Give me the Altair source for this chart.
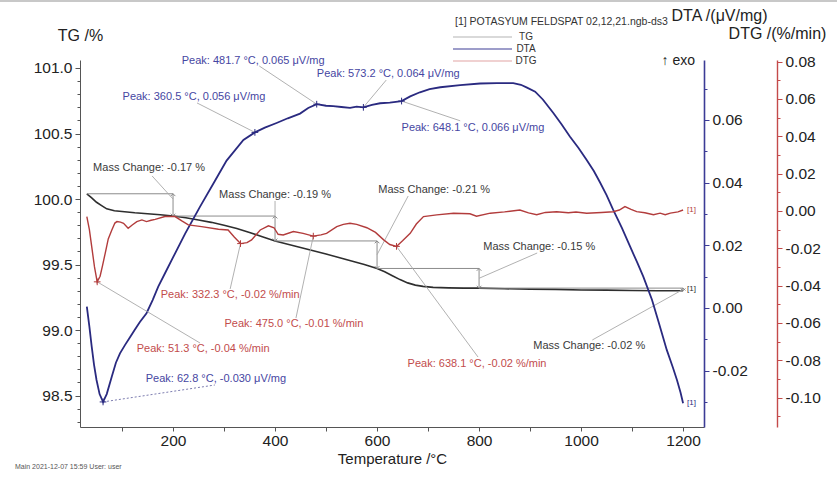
import altair as alt
import pandas as pd

FONT = "Liberation Sans"
C_TG = "#2e2e2e"
C_DTA = "#2a2a80"
C_DTG = "#b23c3c"
C_DTA_TXT = "#4646a2"
C_DTG_TXT = "#c24c4c"
C_NOTE = "#3a3a3a"
C_LEADER = "#a8a8a8"
C_STEP = "#8c8c8c"

# ---------------- measured curves ----------------
# TG: mass in %
tg_temp = [31, 40, 50, 60, 70, 85, 100, 125, 150, 175, 200, 225, 250, 275, 300,
           325, 350, 375, 400, 425, 450, 475, 500, 525, 550, 575, 600, 615, 630, 645,
           660, 675, 690, 710, 740, 770, 800, 850, 900, 950, 1000, 1050, 1100, 1150, 1200]
tg_mass = [100.04, 100.01, 99.975, 99.95, 99.925, 99.91, 99.905, 99.895, 99.888, 99.88,
           99.87, 99.857, 99.84, 99.822, 99.80, 99.775, 99.745, 99.712, 99.68, 99.655,
           99.63, 99.605, 99.58, 99.553, 99.527, 99.50, 99.47, 99.445, 99.415, 99.385,
           99.36, 99.343, 99.333, 99.326, 99.322, 99.32, 99.32, 99.315, 99.312, 99.31,
           99.306, 99.305, 99.302, 99.30, 99.30]

# DTA: uV/mg
dta_temp = [31, 36, 40.5, 45, 50, 56, 62.8, 70, 80, 88, 96, 106, 115, 125, 135,
            148, 160, 171, 185, 200, 224, 253, 282, 305, 338, 360.5, 380, 403, 425, 449,
            465, 481.7, 500, 514, 530, 547, 560, 573.2, 590, 606, 625, 648.1, 665, 684, 703,
            724, 763, 802, 835, 867, 882, 894, 910, 925, 946, 962, 978, 995, 1011, 1025,
            1037, 1050, 1063, 1080, 1096, 1110, 1122, 1139, 1152, 1168, 1180, 1188, 1195, 1200]
dta_val = [0.0004, -0.006, -0.0123, -0.018, -0.023, -0.0275, -0.030, -0.0275, -0.0219, -0.0175,
           -0.0145, -0.0118, -0.0095, -0.0070, -0.0045, -0.0017, 0.0025, 0.0068, 0.0113, 0.0161,
           0.0238, 0.0323, 0.0405, 0.047, 0.0536, 0.056, 0.0575, 0.059, 0.0605, 0.062,
           0.0638, 0.065, 0.0645, 0.0644, 0.0641, 0.0638, 0.0642, 0.064, 0.0648, 0.0653,
           0.0655, 0.066, 0.0675, 0.0688, 0.0698, 0.0704, 0.0711, 0.0716, 0.0717, 0.0717,
           0.0712, 0.0703, 0.069, 0.0665, 0.0621, 0.0585, 0.0547, 0.051, 0.0472, 0.0437,
           0.0401, 0.036, 0.0313, 0.0255, 0.0196, 0.0145, 0.0100, 0.0026, -0.0045, -0.0134,
           -0.0190, -0.0230, -0.027, -0.0304]

# DTG: %/min
dtg_temp = [31, 36, 40.5, 46, 51.3, 57, 62, 67, 73, 80, 86, 90, 97, 103, 112,
            120, 129, 139, 148, 157, 165, 184, 204, 218, 230, 256, 289, 308, 320, 332.3,
            345, 354, 371, 387, 398, 406, 416, 436, 455, 475, 490, 501, 521, 534, 547,
            560, 580, 597, 613, 625, 638.1, 650, 665, 677, 691, 717, 750, 782, 795, 822,
            850, 880, 897, 913, 930, 952, 975, 990, 1011, 1040, 1063, 1075, 1086, 1098, 1109,
            1125, 1142, 1155, 1165, 1175, 1190, 1200]
dtg_val = [-0.0030, -0.010, -0.019, -0.030, -0.038, -0.035, -0.029, -0.0227, -0.015, -0.0102,
           -0.0065, -0.0057, -0.0060, -0.0066, -0.0093, -0.0075, -0.0057, -0.0048, -0.0057, -0.0050,
           -0.0045, -0.0030, -0.0030, -0.0055, -0.0075, -0.0084, -0.0098, -0.0102, -0.0140, -0.0175,
           -0.0170, -0.0155, -0.0102, -0.0080, -0.0090, -0.0125, -0.0129, -0.0110, -0.0120, -0.0135,
           -0.0128, -0.0120, -0.0084, -0.0072, -0.0066, -0.0072, -0.0090, -0.0115, -0.0155, -0.0180,
           -0.0190, -0.0160, -0.0120, -0.0070, -0.0030, -0.0021, -0.0012, -0.0015, -0.0028, -0.0012,
           -0.0005, 0.0005, -0.0010, -0.0020, -0.0008, -0.0004, -0.0010, -0.0006, -0.0012, -0.0008,
           -0.0004, 0.0005, 0.0023, 0.0008, -0.0004, -0.0010, -0.0020, -0.0012, -0.0020, -0.0012,
           -0.0005, 0.0005]

# evaluated peaks and mass-change steps
dta_peak_temp = [62.8, 360.5, 481.7, 573.2, 648.1]
dtg_peak_temp = [51.3, 332.3, 475.0, 638.1]
step_temp = [31, 200, 400, 600, 800, 1200]

x_ticks = list(range(100, 1201, 100))
tg_ticks = [98.5, 99.0, 99.5, 100.0, 100.5, 101.0]
dta_ticks = [-0.02, 0.0, 0.02, 0.04, 0.06]
dtg_ticks = [-0.10, -0.08, -0.06, -0.04, -0.02, 0.0, 0.02, 0.04, 0.06, 0.08]

# label placement (label centre / leader end), in the units of each axis
dta_label_T = [284, 241, 357, 622, 788]
dta_label_v = [-0.0226, 0.0673, 0.0788, 0.0746, 0.0574]
dta_lead_T = [282, 247, 369, 618, 763]
dta_lead_v = [-0.0246, 0.0654, 0.0772, 0.0727, 0.0597]

dtg_label_T = [259, 312, 437, 796]
dtg_label_v = [-0.074, -0.045, -0.0606, -0.082]
dtg_lead_T = [253, 312, 441, 798]
dtg_lead_v = [-0.0708, -0.0418, -0.0574, -0.0783]

mc_label_T = [153, 400, 712, 918, 1016]
mc_label_v = [100.237, 100.03, 100.07, 99.634, 98.878]
mc_lead_T = [159, 400, 661, 914, 1022]
mc_lead_v = [100.176, 99.985, 100.023, 99.588, 98.924]
mc_tip_v = [100.0, 99.86, 99.575, 99.395, 99.31]

# ---------------- derived tables ----------------
dta_peak_val = [dta_val[dta_temp.index(t)] for t in dta_peak_temp]
dtg_peak_val = [dtg_val[dtg_temp.index(t)] for t in dtg_peak_temp]
levels = [tg_mass[tg_temp.index(t)] for t in step_temp]
changes = [b - a for a, b in zip(levels[:-1], levels[1:])]

tg_df = pd.DataFrame({"T": tg_temp, "v": tg_mass})
dta_df = pd.DataFrame({"T": dta_temp, "v": dta_val})
dtg_df = pd.DataFrame({"T": dtg_temp, "v": dtg_val})

dta_peaks = pd.DataFrame({
    "T": dta_peak_temp, "v": dta_peak_val,
    "T2": dta_lead_T, "v2": dta_lead_v,
    "lT": dta_label_T, "lv": dta_label_v,
    "label": [f"Peak: {t:.1f} °C, {v:.3f} μV/mg" for t, v in zip(dta_peak_temp, dta_peak_val)],
})
dtg_peaks = pd.DataFrame({
    "T": dtg_peak_temp, "v": dtg_peak_val,
    "T2": dtg_lead_T, "v2": dtg_lead_v,
    "lT": dtg_label_T, "lv": dtg_label_v,
    "label": [f"Peak: {t:.1f} °C, {v:.2f} %/min" for t, v in zip(dtg_peak_temp, dtg_peak_val)],
})
step_h = pd.DataFrame({"T": step_temp[:-1], "T2": step_temp[1:], "v": levels[:-1]})
step_v = pd.DataFrame({"T": step_temp[1:], "v": levels[:-1], "v2": levels[1:],
                       "lT": mc_label_T, "lv": mc_label_v,
                       "aT": mc_lead_T, "av": mc_lead_v, "tv": mc_tip_v,
                       "label": [f"Mass Change: {c:.2f} %" for c in changes]})

# ---------------- scales and axes ----------------
x_scale = alt.Scale(domain=[17.6, 1241.0], nice=False, zero=False)
tg_scale = alt.Scale(domain=[98.26, 101.061], nice=False, zero=False)
dta_scale = alt.Scale(domain=[-0.038, 0.0791], nice=False, zero=False)
dtg_scale = alt.Scale(domain=[-0.1158, 0.0809], nice=False, zero=False)

MINUS = "replace(format(datum.value, '.2f'), '\u2212', '-')"

x_axis = alt.Axis(orient="bottom", values=x_ticks, format="d",
                  labelExpr="datum.value % 200 == 0 ? datum.label : ''",
                  title="Temperature /°C", grid=False, tickSize=4,
                  labelFontSize=15.5, titleFontSize=15, titleFontWeight="normal",
                  labelColor="#222", titleColor="#222", domainColor="#555",
                  tickColor="#555", labelPadding=2, titlePadding=3,
                  labelFont=FONT, titleFont=FONT)

tg_axis = alt.Axis(orient="left", values=tg_ticks, format=".1f", grid=False,
                   tickSize=5, labelFontSize=15.5, labelColor="#222",
                   domainColor="#555", tickColor="#555", labelPadding=3,
                   title="TG /%", titleAngle=0, titleX=0, titleY=-25,
                   titleAlign="center", titleBaseline="middle", titleFontSize=16,
                   titleFontWeight="normal", titleColor="#222",
                   labelFont=FONT, titleFont=FONT)
tg_minor_axis = alt.Axis(orient="left", values=[round(98.3 + 0.1 * i, 1) for i in range(28)],
                         labels=False, domain=False, grid=False, tickSize=3,
                         tickColor="#555", title=None)

dta_axis = alt.Axis(orient="right", values=dta_ticks, labelExpr=MINUS, grid=False,
                    tickSize=5, labelFontSize=15.5, labelColor="#222",
                    domainColor="#3c3c96", domainWidth=1.6, tickColor="#3c3c96",
                    labelPadding=3, title="DTA /(μV/mg)", titleAngle=0,
                    titleX=15, titleY=-45, titleAlign="center", titleBaseline="middle",
                    titleFontSize=16, titleFontWeight="normal", titleColor="#222",
                    labelFont=FONT, titleFont=FONT)
dta_minor_axis = alt.Axis(orient="right", values=[round(-0.03 + 0.01 * i, 2) for i in range(11)],
                          labels=False, domain=False, grid=False, tickSize=3,
                          tickColor="#3c3c96", title=None)

dtg_axis = alt.Axis(orient="right", offset=73, values=dtg_ticks, labelExpr=MINUS,
                    grid=False, tickSize=5, labelFontSize=15.5, labelColor="#222",
                    domainColor="#c44a4a", domainWidth=1.4, tickColor="#c44a4a",
                    labelPadding=3, title="DTG /(%/min)", titleAngle=0,
                    titleX=0, titleY=-27, titleAlign="center", titleBaseline="middle",
                    titleFontSize=16, titleFontWeight="normal", titleColor="#222",
                    labelFont=FONT, titleFont=FONT)
dtg_minor_axis = alt.Axis(orient="right", offset=73,
                          values=[round(-0.11 + 0.01 * i, 2) for i in range(20)],
                          labels=False, domain=False, grid=False, tickSize=3,
                          tickColor="#c44a4a", title=None)


def xe(field="T", axis=None):
    return alt.X(f"{field}:Q", scale=x_scale, axis=axis)


def ye(scale, field="v", axis=None):
    return alt.Y(f"{field}:Q", scale=scale, axis=axis)


PLUS = "M-1,0L1,0M0,-1L0,1"
UP = "M-1,1L0,0L1,1"
DOWN = "M-1,-1L0,0L1,-1"

# ---------------- temperature axis (own layer) ----------------
x_axis_layer = alt.Chart(tg_df).mark_line(opacity=0).encode(
    x=xe(axis=x_axis), y=ye(tg_scale))

# ---------------- TG group ----------------
tg_line = alt.Chart(tg_df).mark_line(color=C_TG, strokeWidth=1.6).encode(
    x=xe(), y=ye(tg_scale, axis=tg_axis))
tg_minor = alt.Chart(tg_df).mark_line(opacity=0).encode(
    x=xe(), y=ye(tg_scale, axis=tg_minor_axis))
tg_hrules = alt.Chart(step_h).mark_rule(color=C_STEP, strokeWidth=1).encode(
    x=xe(), x2="T2:Q", y=ye(tg_scale))
tg_vrules = alt.Chart(step_v).mark_rule(color=C_STEP, strokeWidth=1).encode(
    x=xe(), y=ye(tg_scale), y2="v2:Q")
tg_up = alt.Chart(step_v).mark_point(shape=UP, filled=False, size=22, color=C_STEP,
                                     strokeWidth=1, opacity=1).encode(x=xe(), y=ye(tg_scale))
tg_down = alt.Chart(step_v).mark_point(shape=DOWN, filled=False, size=22, color=C_STEP,
                                       strokeWidth=1, opacity=1).encode(x=xe(), y=ye(tg_scale, "v2"))
tg_leaders = alt.Chart(step_v).mark_rule(color=C_LEADER, strokeWidth=0.9).encode(
    x=xe("aT"), y=ye(tg_scale, "av"), x2="T:Q", y2="tv:Q")
tg_text = alt.Chart(step_v).mark_text(font=FONT, fontSize=11, color=C_NOTE,
                                      align="center", baseline="middle").encode(
    x=xe("lT"), y=ye(tg_scale, "lv"), text="label:N")
tg_end = alt.Chart(tg_df.tail(1)).mark_text(text="[1]", font=FONT, fontSize=8, color=C_TG,
                                            align="left", baseline="middle", dx=4, dy=-2).encode(
    x=xe(), y=ye(tg_scale))

tg_group = alt.layer(tg_line, tg_minor, tg_hrules, tg_vrules, tg_up, tg_down,
                     tg_leaders, tg_text, tg_end).resolve_axis(x="independent", y="independent")

# ---------------- DTA group ----------------
dta_line = alt.Chart(dta_df).mark_line(color=C_DTA, strokeWidth=1.8).encode(
    x=xe(), y=ye(dta_scale, axis=dta_axis))
dta_minor = alt.Chart(dta_df).mark_line(opacity=0).encode(
    x=xe(), y=ye(dta_scale, axis=dta_minor_axis))
dta_lead_solid = alt.Chart(dta_peaks.iloc[1:]).mark_rule(color=C_LEADER, strokeWidth=0.9).encode(
    x=xe(), y=ye(dta_scale), x2="T2:Q", y2="v2:Q")
dta_lead_dash = alt.Chart(dta_peaks.iloc[:1]).mark_rule(color="#5a5a9a", strokeWidth=0.8,
                                                        strokeDash=[2, 2]).encode(
    x=xe(), y=ye(dta_scale), x2="T2:Q", y2="v2:Q")
dta_marks = alt.Chart(dta_peaks).mark_point(shape=PLUS, filled=False, size=45, color=C_DTA,
                                            strokeWidth=1, opacity=1).encode(
    x=xe(), y=ye(dta_scale))
dta_text = alt.Chart(dta_peaks).mark_text(font=FONT, fontSize=11, color=C_DTA_TXT,
                                          align="center", baseline="middle").encode(
    x=xe("lT"), y=ye(dta_scale, "lv"), text="label:N")
dta_end = alt.Chart(dta_df.tail(1)).mark_text(text="[1]", font=FONT, fontSize=8, color=C_DTA,
                                              align="left", baseline="middle", dx=4).encode(
    x=xe(), y=ye(dta_scale))

dta_group = alt.layer(dta_lead_solid, dta_lead_dash, dta_line, dta_minor, dta_marks,
                      dta_text, dta_end).resolve_axis(x="independent", y="independent")

# ---------------- DTG group ----------------
dtg_line = alt.Chart(dtg_df).mark_line(color=C_DTG, strokeWidth=1.4).encode(
    x=xe(), y=ye(dtg_scale, axis=dtg_axis))
dtg_minor = alt.Chart(dtg_df).mark_line(opacity=0).encode(
    x=xe(), y=ye(dtg_scale, axis=dtg_minor_axis))
dtg_leads = alt.Chart(dtg_peaks).mark_rule(color=C_LEADER, strokeWidth=0.9).encode(
    x=xe(), y=ye(dtg_scale), x2="T2:Q", y2="v2:Q")
dtg_marks = alt.Chart(dtg_peaks).mark_point(shape=PLUS, filled=False, size=45, color=C_DTG,
                                            strokeWidth=1, opacity=1).encode(
    x=xe(), y=ye(dtg_scale))
dtg_text = alt.Chart(dtg_peaks).mark_text(font=FONT, fontSize=11, color=C_DTG_TXT,
                                          align="center", baseline="middle").encode(
    x=xe("lT"), y=ye(dtg_scale, "lv"), text="label:N")
dtg_end = alt.Chart(dtg_df.tail(1)).mark_text(text="[1]", font=FONT, fontSize=8, color=C_DTG,
                                              align="left", baseline="middle", dx=4).encode(
    x=xe(), y=ye(dtg_scale))

dtg_group = alt.layer(dtg_leads, dtg_line, dtg_minor, dtg_marks, dtg_text,
                      dtg_end).resolve_axis(x="independent", y="independent")

# ---------------- header, legend and footer ----------------
one = pd.DataFrame({"k": [0]})


def px_text(text, x, y, **kw):
    return alt.Chart(one).mark_text(text=text, font=FONT, **kw).encode(
        x=alt.value(x), y=alt.value(y))


def px_rule(x1, x2, y, color, width=1.0):
    return alt.Chart(one).mark_rule(color=color, strokeWidth=width).encode(
        x=alt.value(x1), x2=alt.value(x2), y=alt.value(y))


legend_names = ["TG", "DTA", "DTG"]
legend_colors = ["#b4b4b4", "#3c3c96", "#e2a4a4"]
decor = [
    px_rule(-80, 757, -59, "#c8c8c8", 2),
    px_text("[1] POTASYUM FELDSPAT 02,12,21.ngb-ds3", 375, -38, fontSize=10.5,
            color="#333", align="left", baseline="middle"),
    px_text("↑ exo", 615, 1, fontSize=14, color="#222", align="right", baseline="middle"),
    px_text("Main   2021-12-07 15:59   User: user", -65, 407, fontSize=7,
            color="#555", align="left", baseline="middle"),
]
for i, (name, col) in enumerate(zip(legend_names, legend_colors)):
    yy = -23 + 12 * i
    decor.append(px_rule(373, 432, yy, col, 1.2))
    decor.append(px_text(name, 446, yy, fontSize=10, color="#333",
                         align="center", baseline="middle"))

chart = alt.layer(x_axis_layer, tg_group, dta_group, dtg_group, *decor).resolve_scale(
    y="independent"
).resolve_axis(
    x="independent", y="independent"
).properties(
    width=624, height=367,
    padding={"left": 80, "top": 60, "right": 133, "bottom": 50},
    autosize=alt.AutoSizeParams(type="none"),
    background="white",
).configure_view(stroke=None)

chart.save("out.html", embed_options={"renderer": "svg", "actions": False})
